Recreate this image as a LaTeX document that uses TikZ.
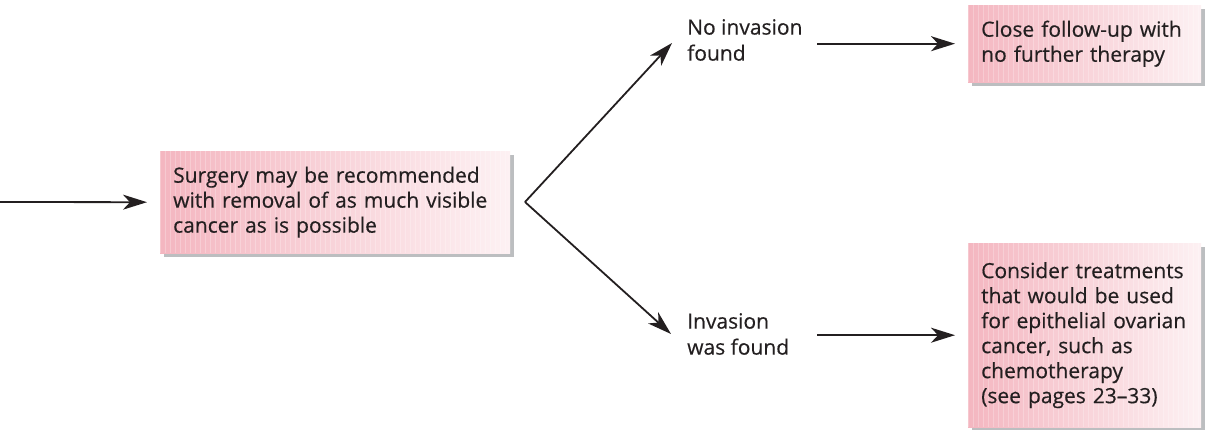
\documentclass[tikz,border=0pt]{standalone}
\usepackage{fontspec}
\setmainfont{Open Sans}[FakeBold=0.4]
\usetikzlibrary{arrows.meta,shadows,calc}
\definecolor{ink}{HTML}{231F20}
\definecolor{pinkL}{HTML}{F4B6C0}
\definecolor{pinkR}{HTML}{FDF1F3}
\definecolor{shade}{HTML}{BCBEC0}
\tikzset{
  box/.style={anchor=north west, left color=pinkL, right color=pinkR,
    inner xsep=13pt, inner ysep=0pt, align=left, text=ink,
    font=\fontsize{21}{25}\selectfont,
    drop shadow={shadow xshift=4pt, shadow yshift=-4pt, fill=shade, opacity=1},
    path picture={
      \foreach \k in {0,5,...,360}{
        \draw[white, opacity=0.25, line width=0.6pt]
          ([xshift=\k pt]path picture bounding box.south west) --
          ([xshift=\k pt]path picture bounding box.south west |- path picture bounding box.north);
      }
    }},
  lab/.style={anchor=west, inner sep=0pt, align=left, text=ink,
    font=\fontsize{21}{26}\selectfont},
  arr/.style={draw=ink, line width=1.8pt, -{Stealth[length=24pt,width=15pt,inset=7pt]}},
}
\begin{document}
\begin{tikzpicture}[x=1pt,y=-1pt]
\useasboundingbox (0,0) rectangle (1206,430);

\node[box, text width=324pt, minimum height=102pt] (surg) at (160,151)
  {Surgery may be recommended\\with removal of as much visible\\cancer as is possible};
\node[box, text width=207pt, minimum height=77pt] (close) at (968,5)
  {Close follow-up with\\no further therapy};
\node[box, text width=207pt, minimum height=184pt] (treat) at (968,243)
  {Consider treatments\\that would be used\\for epithelial ovarian\\cancer, such as\\chemotherapy\\(see pages 23–33)};

\node[lab] (noinv) at (687,40) {No invasion\\found};
\node[lab] (inv) at (687,334) {Invasion\\was found};

\coordinate (start) at (0,202);
\coordinate (br) at (525,202);
\coordinate (tipA) at (672,43);
\coordinate (tipB) at (671,334);

\draw[arr] (start) -- ([xshift=-13pt]surg.west);
\draw[arr] (br) -- (tipA);
\draw[arr] (br) -- (tipB);
\draw[arr] (817,0 |- close.west) -- ([xshift=-13pt]close.west);
\draw[arr] (817,0 |- treat.west) -- ([xshift=-13pt]treat.west);
\end{tikzpicture}
\end{document}
